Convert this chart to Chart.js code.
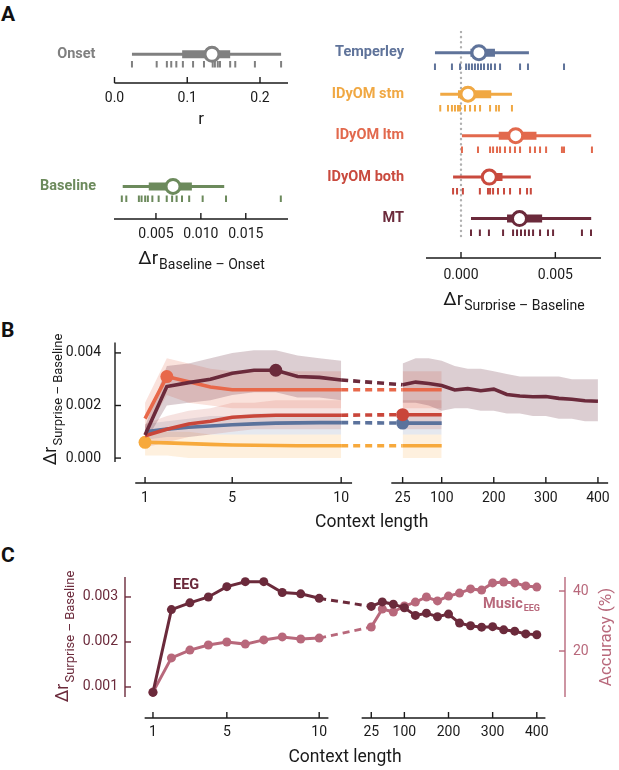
<!DOCTYPE html>
<html>
<head>
<meta charset="utf-8">
<script src="https://cdn.jsdelivr.net/npm/chart.js@4"></script>
<style>
body { margin: 0; background: #fff; width: 619px; height: 770px; position: relative; overflow: hidden; font-family: Roboto, sans-serif; }
canvas { position: absolute; }
.panel { position: absolute; font: bold 21px Roboto; color: #111; }
</style>
</head>
<body>
<div class="panel" style="left:1px;top:2px">A</div>
<div class="panel" style="left:1px;top:318px">B</div>
<div class="panel" style="left:1px;top:543px">C</div>
<canvas id="onset" width="300" height="115" style="left:0;top:15px"></canvas>
<canvas id="baseline" width="300" height="125" style="left:0;top:145px"></canvas>
<canvas id="models" width="319" height="310" style="left:300px;top:0"></canvas>
<canvas id="context" width="619" height="225" style="left:0;top:320px"></canvas>
<canvas id="music" width="619" height="225" style="left:0;top:545px"></canvas>
<script>
// ---- panel A data: [whisker lo, box lo, median, box hi, whisker hi] + per-subject rug
const onsetStats = [0.024, 0.093, 0.134, 0.159, 0.229];
const onsetRug = [0.024, 0.058, 0.072, 0.078, 0.085, 0.094, 0.108, 0.123, 0.135, 0.138, 0.142, 0.145, 0.159, 0.166, 0.193, 0.229];
const baselineStats = [0.0013, 0.0042, 0.0069, 0.0090, 0.0126];
const baselineRug = [0.0012, 0.0017, 0.0031, 0.0034, 0.0038, 0.0041, 0.0046, 0.0053, 0.0062, 0.0068, 0.0073, 0.0079, 0.0087, 0.0102, 0.0128, 0.0189];

const modelNames = ['Temperley', 'IDyOM stm', 'IDyOM ltm', 'IDyOM both', 'MT'];
const modelColors = ['#5f739a', '#f0a843', '#e2694d', '#c94a3e', '#6b2a3b'];
const modelStats = [
  [-0.00138, 0.0005, 0.00095, 0.0018, 0.0036],
  [-0.0011, -0.00016, 0.00037, 0.0016, 0.0027],
  [0.00005, 0.0020, 0.0029, 0.0040, 0.0069],
  [-0.00042, 0.0011, 0.0015, 0.0022, 0.0037],
  [0.00053, 0.00244, 0.0031, 0.0043, 0.0069]
];
const modelRugs = [
  [-0.00138, -0.00048, -0.00005, 0.00027, 0.00042, 0.00058, 0.00074, 0.0009, 0.00106, 0.00122, 0.00143, 0.00159, 0.0018, 0.00207, 0.00313, 0.00355, 0.00546],
  [-0.0011, -0.00069, -0.00048, -0.00032, -0.00016, -0.00005, 0.00021, 0.00048, 0.00074, 0.00101, 0.00154, 0.00186, 0.00201, 0.0027],
  [0.00005, 0.0009, 0.00154, 0.0017, 0.00191, 0.00207, 0.00233, 0.0026, 0.00286, 0.00313, 0.00366, 0.00392, 0.00419, 0.00451, 0.00535, 0.00546, 0.00694],
  [-0.00042, -0.00021, 0.0001, 0.001, 0.00143, 0.00154, 0.0017, 0.00196, 0.00228, 0.0026, 0.00313, 0.0035, 0.0037],
  [0.00053, 0.001, 0.00148, 0.00223, 0.00276, 0.00297, 0.00318, 0.00339, 0.0036, 0.00382, 0.00419, 0.00461, 0.00488, 0.00641, 0.00689]
];

// ---- panel B / C data (context lengths)
const ctxLeft = [1, 2, 3, 4, 5, 6, 7, 8, 9, 10];
const ctxRight = [25, 50, 75, 100, 125, 150, 175, 200, 225, 250, 275, 300, 325, 350, 375, 400];
const ctxTicks = [1, 5, 10, 25, 100, 200, 300, 400];
const ctxAll = ctxLeft.concat(ctxRight);
const ctxShort = ctxLeft.concat([25, 50, 75, 100]);

const eegDelta = [0.00088, 0.00272, 0.00287, 0.0030, 0.00323, 0.00334, 0.00334, 0.0031, 0.00307, 0.00297,
  0.00279, 0.00289, 0.00284, 0.00276, 0.00259, 0.00264, 0.00256, 0.00262, 0.00242, 0.00236, 0.00233, 0.00234, 0.00227, 0.00224, 0.00218, 0.00216];
const mtLo = [0.0006, 0.0020, 0.0021, 0.0022, 0.0024, 0.0025, 0.0025, 0.0023, 0.0023, 0.0022,
  0.0021, 0.0021, 0.0020, 0.0018, 0.0019, 0.0019, 0.0018, 0.0018, 0.0017, 0.0017, 0.0016, 0.0016, 0.0015, 0.0015, 0.0014, 0.0014];
const mtHi = [0.0012, 0.0035, 0.0036, 0.0038, 0.0040, 0.0041, 0.0041, 0.0039, 0.0038, 0.0037,
  0.0036, 0.0038, 0.0038, 0.0037, 0.0035, 0.0034, 0.0034, 0.0033, 0.0032, 0.0031, 0.0031, 0.0031, 0.0031, 0.0030, 0.0030, 0.0030];
const ltmDelta = [0.0015, 0.0031, 0.0029, 0.0027, 0.0026, 0.0026, 0.0026, 0.0026, 0.0026, 0.0026, 0.0026, 0.0026, 0.0026, 0.0026];
const ltmLo = [0.0009, 0.0024, 0.0021, 0.0020, 0.0019, 0.0019, 0.0019, 0.0019, 0.0019, 0.0019, 0.0019, 0.0019, 0.0019, 0.0019];
const ltmHi = [0.0021, 0.0038, 0.0036, 0.0034, 0.0033, 0.0033, 0.0033, 0.0033, 0.0033, 0.0033, 0.0033, 0.0033, 0.0033, 0.0033];
const bothDelta = [0.00085, 0.0011, 0.0013, 0.0014, 0.00155, 0.0016, 0.00163, 0.00163, 0.00163, 0.00163, 0.00165, 0.00165, 0.00165, 0.00165];
const bothLo = [0.0004, 0.0006, 0.0008, 0.0009, 0.0010, 0.0011, 0.0011, 0.0011, 0.0011, 0.0011, 0.0011, 0.0011, 0.0011, 0.0011];
const bothHi = [0.0013, 0.0016, 0.0018, 0.0019, 0.0021, 0.0021, 0.0022, 0.0022, 0.0022, 0.0022, 0.0022, 0.0022, 0.0022, 0.0022];
const tempDelta = [0.0010, 0.0011, 0.00117, 0.00122, 0.00127, 0.0013, 0.00133, 0.00134, 0.00135, 0.00135, 0.00133, 0.00133, 0.00133, 0.00133];
const tempLo = [0.0007, 0.0008, 0.0008, 0.0009, 0.0009, 0.0009, 0.0009, 0.0009, 0.0009, 0.0009, 0.0009, 0.0009, 0.0009, 0.0009];
const tempHi = [0.0013, 0.0014, 0.0015, 0.0016, 0.0016, 0.0017, 0.0017, 0.0017, 0.0017, 0.0017, 0.0017, 0.0017, 0.0017, 0.0017];
const stmDelta = [0.0006, 0.00058, 0.00055, 0.00052, 0.0005, 0.00049, 0.00048, 0.00047, 0.00047, 0.00047, 0.00047, 0.00047, 0.00047, 0.00047];
const stmLo = [0.0001, 0.0001, 0.0000, 0.0000, 0.0000, 0.0000, 0.0000, 0.0000, 0.0000, 0.0000, 0.0000, 0.0000, 0.0000, 0.0000];
const stmHi = [0.0011, 0.0010, 0.0010, 0.0009, 0.0009, 0.0009, 0.0009, 0.0009, 0.0009, 0.0009, 0.0009, 0.0009, 0.0009, 0.0009];

const musicAcc = [6.3, 17.7, 20.3, 22, 23, 22.3, 23.7, 24.7, 24, 24.3,
  28, 34, 33, 35, 36.3, 38, 36.7, 38.3, 39.3, 40.7, 40.3, 42.7, 43, 42.7, 41.7, 41.3];

const INK = '#1a1a1a';
const MAROON = '#6b2a3b';
const PINK = '#b8687b';
Chart.defaults.font.family = 'Roboto';
Chart.defaults.color = INK;
Chart.defaults.animation = false;
Chart.defaults.events = [];
Chart.defaults.plugins.legend.display = false;
Chart.defaults.plugins.tooltip.enabled = false;

// broken context axis: 1..10 linear, then 25..400 compressed
function pos(c) { return c <= 10 ? c : 12.82 + (c - 25) * 0.0239; }
function pts(ctxs, vals) { return ctxs.map((c, i) => ({ x: pos(c), y: vals[i] })); }
function bandPts(ctxs, vals) {
  const out = [];
  ctxs.forEach((c, i) => {
    if (c === 25) out.push({ x: 11.5, y: null });
    out.push({ x: pos(c), y: vals[i] });
  });
  return out;
}

function line(ctx, x1, y1, x2, y2) { ctx.beginPath(); ctx.moveTo(x1, y1); ctx.lineTo(x2, y2); ctx.stroke(); }

function drawSub(ctx, x, y, main, sub, color, size, rot) {
  ctx.save();
  ctx.translate(x, y);
  if (rot) ctx.rotate(rot);
  ctx.fillStyle = color;
  ctx.textBaseline = 'alphabetic';
  ctx.textAlign = 'left';
  const f1 = size + 'px Roboto', f2 = Math.round(size * 0.74) + 'px Roboto';
  ctx.font = f1; const w1 = ctx.measureText(main).width;
  ctx.font = f2; const w2 = sub ? ctx.measureText(sub).width : 0;
  const x0 = -(w1 + w2) / 2;
  ctx.font = f1; ctx.fillText(main, x0, size * 0.35);
  if (sub) { ctx.font = f2; ctx.fillText(sub, x0 + w1 + 1, size * 0.35 + size * 0.3); }
  ctx.restore();
}

function forest(id, cfg) {
  const circles = [], boxes = [], whisk = [], rugs = [];
  cfg.names.forEach((name, i) => {
    const [wLo, bLo, med, bHi, wHi] = cfg.stats[i];
    const col = cfg.colors[i];
    circles.push({ data: [{ x: med, y: i }], showLine: false, pointRadius: 7, pointBorderWidth: 3,
      pointBorderColor: col, pointBackgroundColor: '#fff' });
    boxes.push({ data: [{ x: bLo, y: i }, { x: bHi, y: i }], borderColor: col, borderWidth: 8,
      borderCapStyle: 'butt', pointRadius: 0 });
    whisk.push({ data: [{ x: wLo, y: i }, { x: wHi, y: i }], borderColor: col, borderWidth: 3, pointRadius: 0 });
    rugs.push({ data: cfg.rugs[i].map(v => ({ x: v, y: i + cfg.rugOff })), showLine: false, pointStyle: 'line',
      pointRotation: 90, pointRadius: 3.2, pointBorderWidth: 2, pointBorderColor: col });
  });
  const zero = cfg.zero ? [{ data: [{ x: 0, y: -0.5 }, { x: 0, y: cfg.names.length - 0.5 }], borderColor: '#b0b0b0',
    borderWidth: 2.4, borderDash: [0.1, 5], borderCapStyle: 'round', pointRadius: 0 }] : [];

  return new Chart(document.getElementById(id), {
    type: 'line',
    data: { datasets: circles.concat(boxes, whisk, rugs, zero) },
    options: {
      responsive: false,
      layout: { padding: { top: cfg.padTop, right: cfg.padRight, left: 0, bottom: 0 } },
      scales: {
        x: {
          type: 'linear', min: cfg.xMin, max: cfg.xMax,
          afterBuildTicks: s => { s.ticks = cfg.xTicks.map(v => ({ value: v })); },
          afterFit: s => { s.height = cfg.xHeight; },
          ticks: { callback: v => v.toFixed(cfg.digits), font: { size: 14 }, color: INK, padding: cfg.tickPad,
            maxRotation: 0, autoSkip: false },
          grid: { display: false, drawTicks: false }, border: { display: false }
        },
        y: {
          type: 'linear', reverse: true, min: cfg.yMin, max: cfg.yMax,
          afterBuildTicks: s => { s.ticks = cfg.names.map((n, i) => ({ value: i })); },
          afterFit: s => { s.width = cfg.yWidth; },
          ticks: { callback: (v, i) => cfg.names[i], color: c => cfg.colors[c.index],
            font: { size: 14.5, weight: 'bold' }, padding: cfg.labelPad, autoSkip: false },
          grid: { display: false, drawTicks: false }, border: { display: false }
        }
      }
    },
    plugins: [{
      id: 'axisA',
      afterDraw(chart) {
        const ctx = chart.ctx, a = chart.chartArea, sx = chart.scales.x;
        ctx.save();
        ctx.strokeStyle = INK; ctx.lineWidth = 1.4;
        line(ctx, a.left, a.bottom, a.right, a.bottom);
        cfg.xTicks.forEach(v => { const p = sx.getPixelForValue(v); line(ctx, p, a.bottom, p, a.bottom - 6); });
        ctx.restore();
        drawSub(ctx, (a.left + a.right) / 2 + cfg.titleDx, a.bottom + cfg.titleDy, cfg.title, cfg.sub, INK, cfg.titleSize);
      }
    }]
  });
}

forest('onset', {
  names: ['Onset'], colors: ['#808080'], stats: [onsetStats], rugs: [onsetRug], rugOff: 0.32,
  xMin: 0, xMax: 0.2385, xTicks: [0, 0.1, 0.2], digits: 1,
  yMin: -0.37, yMax: 0.92, padTop: 10, padRight: 12, yWidth: 114.5, xHeight: 47, tickPad: 7, labelPad: 19,
  title: 'r', sub: '', titleSize: 17, titleDx: 0, titleDy: 35
});

forest('baseline', {
  names: ['Baseline'], colors: ['#6c8a5c'], stats: [baselineStats], rugs: [baselineRug], rugOff: 0.37,
  xMin: 0.00033, xMax: 0.0197, xTicks: [0.005, 0.010, 0.015], digits: 3,
  yMin: -0.444, yMax: 0.978, padTop: 10, padRight: 12, yWidth: 114, xHeight: 51, tickPad: 7, labelPad: 18,
  title: '\u0394r', sub: 'Baseline \u2013 Onset', titleSize: 19, titleDx: 0, titleDy: 38
});

forest('models', {
  names: modelNames, colors: modelColors, stats: modelStats, rugs: modelRugs, rugOff: 0.34, zero: true,
  xMin: -0.001855, xMax: 0.00742, xTicks: [0, 0.005], digits: 3,
  yMin: -0.53, yMax: 4.95, padTop: 10, padRight: 18, yWidth: 126, xHeight: 52, tickPad: 9, labelPad: 22,
  title: '\u0394r', sub: 'Surprise \u2013 Baseline', titleSize: 19, titleDx: 0, titleDy: 40
});

// ---- panel B
const bSeries = [
  { ctx: ctxAll, mean: eegDelta, lo: mtLo, hi: mtHi, color: '#6b2a3b', band: 'rgba(110,50,66,0.24)', best: 7 },
  { ctx: ctxShort, mean: ltmDelta, lo: ltmLo, hi: ltmHi, color: '#e8684a', band: 'rgba(232,110,80,0.2)', best: 2 },
  { ctx: ctxShort, mean: bothDelta, lo: bothLo, hi: bothHi, color: '#c9463a', band: 'rgba(201,74,62,0.16)', best: 25 },
  { ctx: ctxShort, mean: tempDelta, lo: tempLo, hi: tempHi, color: '#5b729c', band: 'rgba(95,115,156,0.16)', best: 25 },
  { ctx: ctxShort, mean: stmDelta, lo: stmLo, hi: stmHi, color: '#f7a93c', band: 'rgba(247,170,70,0.18)', best: 1 }
];
const bLines = bSeries.map(s => ({
  data: pts(s.ctx, s.mean), borderColor: s.color, borderWidth: 3.6, tension: 0,
  pointRadius: c => s.ctx[c.dataIndex] === s.best ? 6.5 : 0,
  pointBackgroundColor: s.color, pointBorderWidth: 0,
  segment: { borderDash: c => s.ctx[c.p0DataIndex] === 10 ? [7, 5] : undefined }
}));
const bBands = [];
bSeries.forEach(s => {
  bBands.push({ data: bandPts(s.ctx, s.lo), borderWidth: 0, pointRadius: 0, fill: false });
  bBands.push({ data: bandPts(s.ctx, s.hi), borderWidth: 0, pointRadius: 0, fill: '-1', backgroundColor: s.band });
});
const xSegs = [[0.55, 10.5], [12.3, 22.25]];

function ctxAxis(hOpts) {
  return {
    type: 'linear', min: hOpts.min, max: hOpts.max,
    afterBuildTicks: s => { s.ticks = ctxTicks.map(c => ({ value: pos(c) })); },
    afterFit: s => { s.height = hOpts.height; },
    ticks: { callback: (v, i) => String(ctxTicks[i]), font: { size: 14 }, color: INK, padding: hOpts.pad,
      maxRotation: 0, autoSkip: false },
    grid: { display: false, drawTicks: false }, border: { display: false }
  };
}

function drawCtxAxis(chart, titleDy) {
  const ctx = chart.ctx, a = chart.chartArea, sx = chart.scales.x;
  ctx.save();
  ctx.strokeStyle = INK; ctx.lineWidth = 1.4;
  xSegs.forEach(([u, v]) => line(ctx, sx.getPixelForValue(u), a.bottom, sx.getPixelForValue(v), a.bottom));
  ctxTicks.forEach(c => { const p = sx.getPixelForValue(pos(c)); line(ctx, p, a.bottom, p, a.bottom - 6); });
  ctx.fillStyle = INK; ctx.font = '17.5px Roboto'; ctx.textAlign = 'center'; ctx.textBaseline = 'middle';
  const mid = (sx.getPixelForValue(xSegs[0][0]) + sx.getPixelForValue(xSegs[1][1])) / 2;
  ctx.fillText('Context length', mid, a.bottom + titleDy);
  ctx.restore();
}

const bTicks = [0, 0.002, 0.004];
new Chart(document.getElementById('context'), {
  type: 'line',
  data: { datasets: bLines.concat(bBands) },
  options: {
    responsive: false,
    layout: { padding: { top: 22, right: 10, left: 0, bottom: 0 } },
    scales: {
      x: ctxAxis({ min: -0.379, max: 22.29, height: 62, pad: 7 }),
      y: {
        type: 'linear', min: -0.000948, max: 0.0044,
        afterBuildTicks: s => { s.ticks = bTicks.map(v => ({ value: v })); },
        afterFit: s => { s.width = 115; },
        ticks: { callback: v => v.toFixed(3), font: { size: 14 }, color: INK, padding: 14 },
        grid: { display: false, drawTicks: false }, border: { display: false }
      }
    }
  },
  plugins: [{
    id: 'axisB',
    afterDraw(chart) {
      const ctx = chart.ctx, a = chart.chartArea, sy = chart.scales.y;
      drawCtxAxis(chart, 40);
      ctx.save();
      ctx.strokeStyle = INK; ctx.lineWidth = 1.4;
      line(ctx, a.left, sy.getPixelForValue(-0.00015), a.left, a.top);
      bTicks.forEach(v => { const p = sy.getPixelForValue(v); line(ctx, a.left, p, a.left + 6, p); });
      ctx.restore();
      drawSub(ctx, 50, 80, '\u0394r', 'Surprise \u2013 Baseline', INK, 18, -Math.PI / 2);
    }
  }]
});

// ---- panel C
const cTicks = [0.001, 0.002, 0.003];
const accTicks = [20, 40];
function cLine(vals, color, axis) {
  return {
    data: pts(ctxAll, vals), yAxisID: axis, borderColor: color, borderWidth: 3, tension: 0,
    pointRadius: 4.5, pointBackgroundColor: color, pointBorderWidth: 0,
    segment: { borderDash: c => ctxAll[c.p0DataIndex] === 10 ? [7, 5] : undefined }
  };
}
new Chart(document.getElementById('music'), {
  type: 'line',
  data: { datasets: [cLine(eegDelta, MAROON, 'y'), cLine(musicAcc, PINK, 'y2')] },
  options: {
    responsive: false,
    layout: { padding: { top: 32, right: 0, left: 0, bottom: 0 } },
    scales: {
      x: ctxAxis({ min: -0.514, max: 23.31, height: 52, pad: 6 }),
      y: {
        type: 'linear', position: 'left', min: 0.000311, max: 0.003444,
        afterBuildTicks: s => { s.ticks = cTicks.map(v => ({ value: v })); },
        afterFit: s => { s.width = 125; },
        ticks: { callback: v => v.toFixed(3), font: { size: 14 }, color: MAROON, padding: 7 },
        grid: { display: false, drawTicks: false }, border: { display: false }
      },
      y2: {
        type: 'linear', position: 'right', min: -2.33, max: 44.67,
        afterBuildTicks: s => { s.ticks = accTicks.map(v => ({ value: v })); },
        afterFit: s => { s.width = 54; },
        ticks: { callback: v => String(v), font: { size: 14 }, color: PINK, padding: 8 },
        grid: { display: false, drawTicks: false }, border: { display: false }
      }
    }
  },
  plugins: [{
    id: 'axisC',
    afterDraw(chart) {
      const ctx = chart.ctx, a = chart.chartArea, sy = chart.scales.y, sy2 = chart.scales.y2;
      drawCtxAxis(chart, 40);
      ctx.save();
      ctx.lineWidth = 1.4;
      ctx.strokeStyle = MAROON;
      line(ctx, a.left, a.top, a.left, sy.getPixelForValue(0.000778));
      cTicks.forEach(v => { const p = sy.getPixelForValue(v); line(ctx, a.left, p, a.left + 6, p); });
      ctx.strokeStyle = PINK;
      line(ctx, a.right, a.top, a.right, sy2.getPixelForValue(4.67));
      accTicks.forEach(v => { const p = sy2.getPixelForValue(v); line(ctx, a.right, p, a.right - 6, p); });
      ctx.font = 'bold 14.5px Roboto'; ctx.textBaseline = 'middle';
      ctx.fillStyle = MAROON; ctx.textAlign = 'left';
      ctx.fillText('EEG', 173, 40);
      ctx.fillStyle = PINK; ctx.textAlign = 'right';
      ctx.font = 'bold 9px Roboto';
      const wSub = ctx.measureText('EEG').width;
      ctx.fillText('EEG', 540, 64);
      ctx.font = 'bold 14.5px Roboto';
      ctx.fillText('Music', 540 - wSub - 1, 59);
      ctx.fillStyle = PINK; ctx.font = '17px Roboto'; ctx.textAlign = 'center';
      ctx.save(); ctx.translate(607, 92); ctx.rotate(-Math.PI / 2); ctx.fillText('Accuracy (%)', 0, 0); ctx.restore();
      ctx.restore();
      drawSub(ctx, 62, 92, '\u0394r', 'Surprise \u2013 Baseline', MAROON, 18, -Math.PI / 2);
    }
  }]
});
</script>
</body>
</html>
